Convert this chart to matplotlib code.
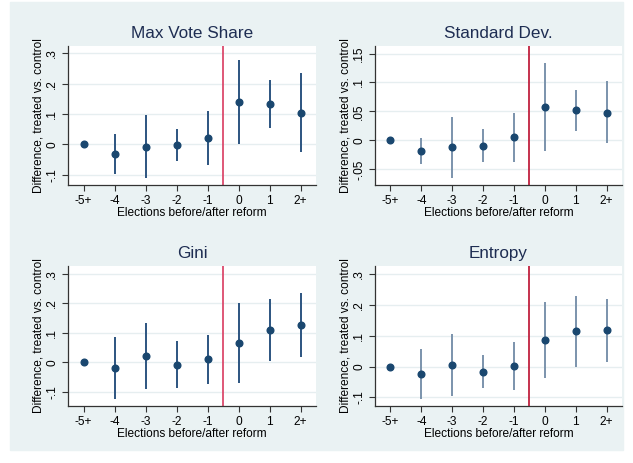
import numpy as np
import matplotlib
matplotlib.use('Agg')
import matplotlib.pyplot as plt

plt.rcParams['font.family'] = ['Liberation Sans', 'DejaVu Sans']

periods = ['-5+', '-4', '-3', '-2', '-1', '0', '1', '2+']

titles = ['Max Vote Share', 'Standard Dev.', 'Gini', 'Entropy']

# point estimates
maxvote = [0.0, -0.032, -0.008, -0.002, 0.022, 0.138, 0.133, 0.104]
stdev = [0.0, -0.019, -0.012, -0.009, 0.006, 0.057, 0.052, 0.048]
gini = [0.0, -0.018, 0.021, -0.008, 0.011, 0.067, 0.110, 0.127]
entropy = [0.0, -0.025, 0.004, -0.017, 0.003, 0.087, 0.114, 0.118]

# confidence intervals (low, high)
maxvote_lo = [0.0, -0.099, -0.112, -0.054, -0.067, 0.000, 0.055, -0.026]
maxvote_hi = [0.0, 0.034, 0.096, 0.049, 0.109, 0.277, 0.212, 0.234]
stdev_lo = [0.0, -0.041, -0.065, -0.037, -0.038, -0.019, 0.016, -0.005]
stdev_hi = [0.0, 0.005, 0.040, 0.020, 0.048, 0.133, 0.087, 0.102]
gini_lo = [0.0, -0.124, -0.091, -0.087, -0.072, -0.070, 0.006, 0.019]
gini_hi = [0.0, 0.087, 0.133, 0.071, 0.092, 0.203, 0.214, 0.234]
entropy_lo = [0.0, -0.105, -0.096, -0.070, -0.076, -0.036, -0.001, 0.014]
entropy_hi = [0.0, 0.056, 0.106, 0.037, 0.081, 0.210, 0.230, 0.220]

yticks = [[-0.1, 0, 0.1, 0.2, 0.3], [-0.05, 0, 0.05, 0.1, 0.15],
          [-0.1, 0, 0.1, 0.2, 0.3], [-0.1, 0, 0.1, 0.2, 0.3]]
yticklabels = [['-.1', '0', '.1', '.2', '.3'], ['-.05', '0', '.05', '.1', '.15'],
               ['-.1', '0', '.1', '.2', '.3'], ['-.1', '0', '.1', '.2', '.3']]
ylims = [(-0.134, 0.324), (-0.077, 0.163), (-0.148, 0.327), (-0.128, 0.326)]

est = [maxvote, stdev, gini, entropy]
lo = [maxvote_lo, stdev_lo, gini_lo, entropy_lo]
hi = [maxvote_hi, stdev_hi, gini_hi, entropy_hi]

W, H = 633, 463
fig = plt.figure(figsize=(W / 100, H / 100), dpi=100)
fig.patch.set_facecolor('white')
bg = '#EAF2F3'
# graph region
fig.patches.append(plt.Rectangle((10 / W, 1 - 450 / H), 613 / W, 448 / H,
                                 transform=fig.transFigure, color=bg, zorder=-10))

boxes = [(68, 46, 316, 185), (375, 46, 622, 185), (68, 266, 316, 406), (375, 266, 622, 406)]
ci_colors = ['#2c5480', '#7b93ac', '#2c5480', '#7b93ac']
red_colors = ['#dc4a6c', '#c0213f', '#dc4a6c', '#c0213f']

x = np.arange(len(periods))
for i in range(4):
    x0, y0, x1, y1 = boxes[i]
    ax = fig.add_axes([x0 / W, 1 - y1 / H, (x1 - x0) / W, (y1 - y0) / H])
    ax.set_facecolor('white')
    e = np.array(est[i])
    ax.vlines(x, lo[i], hi[i], color=ci_colors[i], lw=1.4, zorder=3)
    ax.plot(x, e, 'o', color='#1a476f', ms=4.8, zorder=4)
    ax.axvline(4.5, color=red_colors[i], lw=1.3, zorder=2)
    ax.set_xlim(-0.5, 7.5)
    ax.set_ylim(*ylims[i])
    ax.set_xticks(x)
    ax.set_xticklabels(periods, fontsize=8.6)
    ax.set_yticks(yticks[i])
    ax.set_yticklabels(yticklabels[i], fontsize=8.6, rotation=90, va='center')
    ax.grid(axis='y', color='#E6EEF0', lw=1, zorder=0)
    ax.set_axisbelow(True)
    for s in ['top', 'right']:
        ax.spines[s].set_visible(False)
    for s in ['left', 'bottom']:
        ax.spines[s].set_color('#333333')
        ax.spines[s].set_linewidth(0.9)
    ax.tick_params(length=4.5, width=0.8, color='#333333', pad=2.5)
    ax.set_xlabel('Elections before/after reform', fontsize=8.6, labelpad=0.5)
    ax.set_ylabel('Difference, treated vs. control', fontsize=8.6, labelpad=1.5)
    ax.set_title(titles[i], fontsize=12.3, color='#1e2d52', pad=6)

fig.savefig('out.png', dpi=100, facecolor='white')
